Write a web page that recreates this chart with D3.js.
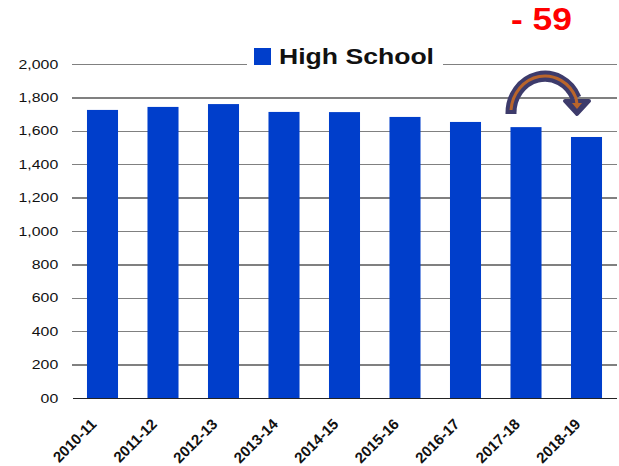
<!doctype html>
<html lang="en">
<head>
  <meta charset="utf-8">
  <title>High School enrollment 2010-11 to 2018-19</title>
  <style>
body {
  margin: 0;
  background: #fff;
}
svg {
  font-family: "Liberation Sans", Arial, sans-serif;
}
.grid line {
  stroke: #808080;
  stroke-width: 1.5;
  shape-rendering: crispEdges;
}
.x.axis path {
  stroke: #222;
  stroke-width: 1.5;
  shape-rendering: crispEdges;
}
  </style>
</head>
<body>
  <script src="https://d3js.org/d3.v7.min.js"></script>
  <script>
var years = ["2010-11", "2011-12", "2012-13", "2013-14", "2014-15",
             "2015-16", "2016-17", "2017-18", "2018-19"];
var highSchool = [1725, 1743, 1760, 1713, 1712, 1683, 1653, 1622, 1563];
var yTicks = [0, 200, 400, 600, 800, 1000, 1200, 1400, 1600, 1800, 2000];
var seriesName = "High School";
var changeLabel = "- 59";

// plot box (window.top is read-only, so no bare "top" here)
var width = 619, height = 466;
var plotLeft = 72.25, plotRight = 616.75, plotTop = 64, plotBottom = 398;
var barColor = "#003ecb";
var stretch = 1.22; // the original text looks a bit wide

var svg = d3.select("body").append("svg")
    .attr("width", width)
    .attr("height", height);

var x = d3.scaleBand()
    .domain(years)
    .range([plotLeft, plotRight])
    .paddingInner(0.487)
    .paddingOuter(0.2435);

var y = d3.scaleLinear()
    .domain([0, 2000])
    .range([plotBottom, plotTop]);

// gridlines + y labels
var yAxis = d3.axisLeft(y)
    .tickValues(yTicks)
    .tickSizeInner(-(plotRight - plotLeft))
    .tickSizeOuter(0)
    .tickPadding(14)
    .tickFormat(function(d) { return d === 0 ? "00" : d3.format(",")(d); });

var gy = svg.append("g")
    .attr("class", "grid")
    .attr("transform", "translate(" + plotLeft + ",0)")
    .call(yAxis);
gy.select(".domain").remove();
gy.selectAll(".tick").filter(function(d) { return d === 0; }).select("line").remove();
gy.selectAll("text")
    .attr("x", -14 / stretch)
    .attr("transform", "scale(" + stretch + ",1)")
    .attr("fill", "#111")
    .style("font-size", "13px");

// bars
svg.selectAll(".bar")
    .data(highSchool)
    .enter().append("rect")
    .attr("class", "bar")
    .attr("x", function(d, i) { return x(years[i]); })
    .attr("width", x.bandwidth())
    .attr("y", function(d) { return y(d); })
    .attr("height", function(d) { return y(0) - y(d); })
    .attr("fill", barColor);

// x axis
var gx = svg.append("g")
    .attr("class", "x axis")
    .attr("transform", "translate(0," + plotBottom + ")")
    .call(d3.axisBottom(x).tickSize(0).tickSizeOuter(0));
gx.selectAll("text")
    .attr("x", 0)
    .attr("y", 0)
    .attr("dy", 0)
    .attr("transform", "translate(-5,27) rotate(-45)")
    .style("text-anchor", "end")
    .style("font-size", "15px")
    .style("font-weight", "bold")
    .attr("fill", "#111");

// legend sits on the top gridline
var legend = svg.append("g");
legend.append("rect")
    .attr("x", 247).attr("y", 44)
    .attr("width", 196).attr("height", 26)
    .attr("fill", "#fff");
legend.append("rect")
    .attr("x", 254).attr("y", 48)
    .attr("width", 17).attr("height", 17)
    .attr("fill", barColor);
legend.append("text")
    .attr("x", 279).attr("y", 64)
    .attr("textLength", 155)
    .attr("lengthAdjust", "spacingAndGlyphs")
    .style("font-size", "22px")
    .style("font-weight", "bold")
    .attr("fill", "#111")
    .text(seriesName);

// change annotation
svg.append("text")
    .attr("x", 511).attr("y", 30)
    .attr("textLength", 61)
    .attr("lengthAdjust", "spacingAndGlyphs")
    .style("font-size", "32px")
    .style("font-weight", "bold")
    .attr("fill", "#ff0000")
    .text(changeLabel);

// curved arrow between the last two bars
var arrow = svg.append("g");
arrow.append("path")
    .attr("d", "M511,114 A34,37 0 0 1 576,98")
    .attr("fill", "none")
    .attr("stroke", "#3d3b6b")
    .attr("stroke-width", 11);
arrow.append("path")
    .attr("d", "M565,101 L589,101 L577,114 Z")
    .attr("fill", "#3d3b6b")
    .attr("stroke", "#3d3b6b")
    .attr("stroke-width", 4)
    .attr("stroke-linejoin", "round");
arrow.append("path")
    .attr("d", "M511,110 A34,37 0 0 1 576,98 L577,104")
    .attr("fill", "none")
    .attr("stroke", "#b9652b")
    .attr("stroke-width", 3);
arrow.append("path")
    .attr("d", "M572,103 L582,103 L577,109 Z")
    .attr("fill", "#b9652b");
  </script>
</body>
</html>
